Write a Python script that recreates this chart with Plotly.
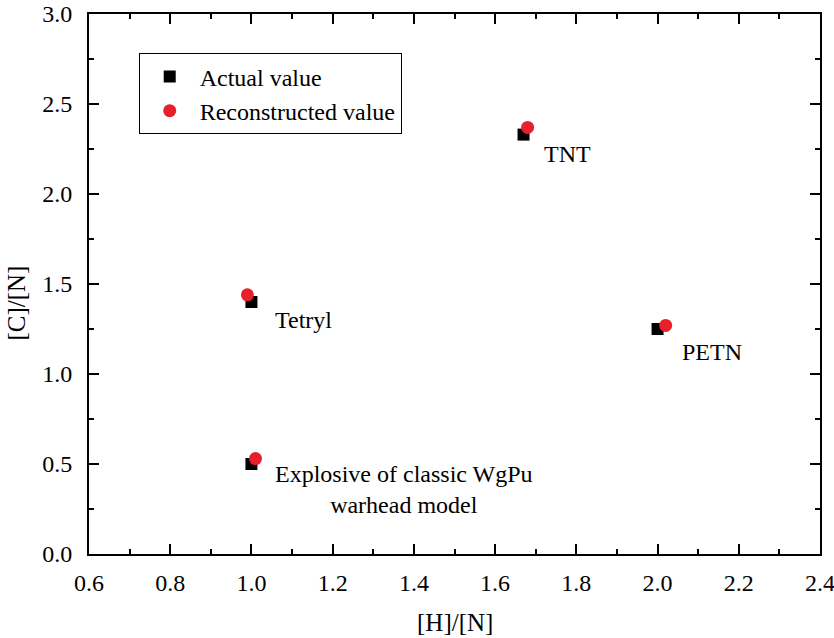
import plotly.graph_objects as go

names = ["Tetryl", "TNT", "PETN", "WgPu"]
actual_hn = [1.00, 1.67, 2.00, 1.00]
actual_cn = [1.40, 2.33, 1.25, 0.50]
recon_hn = [0.99, 1.68, 2.02, 1.01]
recon_cn = [1.44, 2.37, 1.27, 0.53]

label_texts = ["Tetryl", "TNT", "PETN", "Explosive of classic WgPu<br>warhead model"]
label_x = [1.053, 1.716, 2.056, 1.053]
label_y = [1.30, 2.22, 1.12, 0.36]

x_ticks = [0.6, 0.8, 1.0, 1.2, 1.4, 1.6, 1.8, 2.0, 2.2, 2.4]
y_ticks = [0.0, 0.5, 1.0, 1.5, 2.0, 2.5, 3.0]

FONT = "Liberation Serif"

fig = go.Figure()
fig.add_trace(go.Scatter(x=actual_hn, y=actual_cn, mode="markers", name="Actual value",
                         marker=dict(symbol="square", size=12, color="black")))
fig.add_trace(go.Scatter(x=recon_hn, y=recon_cn, mode="markers", name="Reconstructed value",
                         marker=dict(symbol="circle", size=13, color="#e8202a")))

for t, x, y in zip(label_texts, label_x, label_y):
    fig.add_annotation(x=x, y=y, xref="x", yref="y", text=t, showarrow=False,
                       xanchor="left", yanchor="middle", align="center",
                       font=dict(family=FONT, size=24, color="black"))

fig.add_annotation(x=0.5, y=-0.126, xref="paper", yref="paper", text="[H]/[N]",
                   showarrow=False, xanchor="center", yanchor="middle",
                   font=dict(family=FONT, size=25, color="black"))
fig.add_annotation(x=-0.099, y=0.465, xref="paper", yref="paper", text="[C]/[N]",
                   showarrow=False, xanchor="center", yanchor="middle", textangle=-90,
                   font=dict(family=FONT, size=25, color="black"))

axis_common = dict(showline=True, linecolor="black", linewidth=2, mirror="ticks",
                   ticks="inside", ticklen=10, tickwidth=2, tickcolor="black",
                   showgrid=False, zeroline=False, automargin=False,
                   ticklabeloverflow="allow",
                   tickfont=dict(family=FONT, size=24, color="black"))

fig.update_xaxes(range=[0.6, 2.4], tickmode="array", tickvals=x_ticks,
                 ticktext=[f"{v:.1f}" for v in x_ticks],
                 minor=dict(ticks="inside", ticklen=5, tickwidth=2, dtick=0.1, tick0=0.6, tickcolor="black"),
                 ticklabelstandoff=6, **axis_common)
fig.update_yaxes(range=[0.0, 3.0], tickmode="array", tickvals=y_ticks,
                 ticktext=[f"{v:.1f}" for v in y_ticks],
                 minor=dict(ticks="inside", ticklen=5, tickwidth=2, dtick=0.25, tick0=0, tickcolor="black"),
                 ticklabelstandoff=10, **axis_common)

fig.update_layout(
    width=834, height=638,
    margin=dict(l=89, r=14, t=14, b=84, autoexpand=False),
    plot_bgcolor="white", paper_bgcolor="white",
    font=dict(family=FONT, size=24, color="black"),
    showlegend=True,
    legend=dict(x=0.068, y=0.927, xanchor="left", yanchor="top",
                bordercolor="black", borderwidth=1, bgcolor="white",
                font=dict(family=FONT, size=24, color="black"),
                itemwidth=50, tracegroupgap=0),
)

fig.write_html("out.html")
